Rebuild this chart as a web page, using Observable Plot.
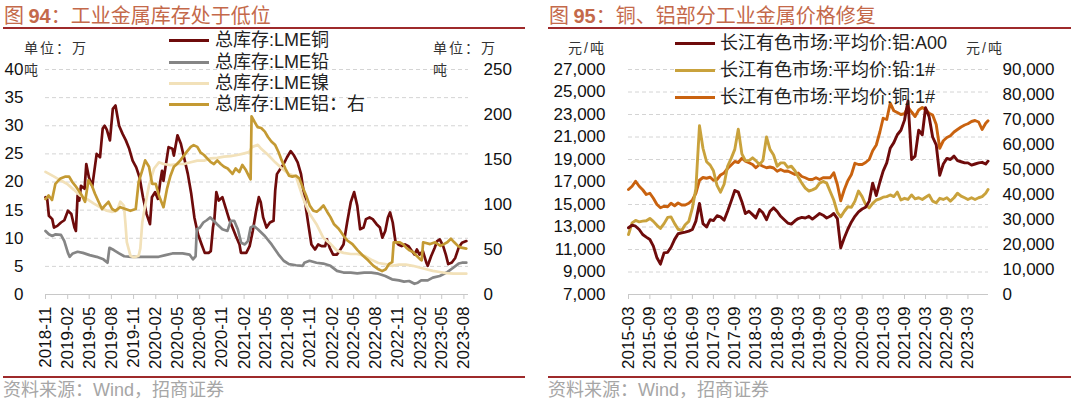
<!DOCTYPE html>
<html><head><meta charset="utf-8">
<script src="https://cdn.jsdelivr.net/npm/d3@7"></script>
<script src="https://cdn.jsdelivr.net/npm/@observablehq/plot@0.6"></script>
<style>
body{margin:0;background:#fff;}
#root{position:relative;width:1080px;height:402px;overflow:hidden;background:#fff;font-family:"Liberation Sans","Noto Sans CJK SC",sans-serif;}
.abs{position:absolute;white-space:nowrap;}
.title{font-size:20px;color:#C4694A;top:0px;line-height:normal;font-family:"Noto Sans CJK SC",sans-serif;}
.title b{font-family:"Liberation Sans",sans-serif;font-weight:bold;}
.rule{position:absolute;height:2px;background:#9E2A2B;}
.src{font-size:18px;color:#A6A6A6;top:380px;line-height:20px;}
.unit{font-size:14px;color:#333;letter-spacing:2px;line-height:16px;}
.leg{font-size:18px;color:#222;line-height:20px;}
.sw{position:absolute;height:3px;width:40px;}
#root svg{position:absolute;top:0;}
</style></head><body><div id="root"></div>
<script>
// ---------- Figure 94: LME inventories (left axis 万吨; aluminium on right axis) ----------
const leftXTicks = ["2018-11","2019-02","2019-05","2019-08","2019-11","2020-02","2020-05","2020-08","2020-11","2021-02","2021-05","2021-08","2021-11","2022-02","2022-05","2022-08","2022-11","2023-02","2023-05","2023-08"];
const leftYTicks = [0,5,10,15,20,25,30,35,40];
const leftRightTicks = [0,50,100,150,200,250];
const leftNames = ["总库存:LME铜","总库存:LME铅","总库存:LME镍","总库存:LME铝：右"];
const leftColors = ["#6E0B0B","#858585","#F2E1B9","#C49A33"];

const cuLME = [["2018-11-01",17.3],["2018-11-08",17],["2018-11-15",14],["2018-11-29",13.4],["2018-12-06",11.9],["2018-12-20",12.2],["2019-01-04",12.8],["2019-01-18",13.2],["2019-02-02",14.9],["2019-02-16",14.3],["2019-03-01",11.9],["2019-03-07",11.3],["2019-03-14",17.6],["2019-03-21",16.7],["2019-03-28",19.3],["2019-04-12",18.8],["2019-04-19",23.2],["2019-04-30",20.8],["2019-05-14",19.3],["2019-06-01",25],["2019-06-15",24.4],["2019-06-26",29.5],["2019-07-04",30],["2019-07-13",29.3],["2019-07-26",27.4],["2019-08-07",33],["2019-08-18",33.6],["2019-09-02",30],["2019-09-16",28.6],["2019-09-30",27.4],["2019-10-14",25.9],["2019-10-28",23.8],["2019-11-12",22.6],["2019-11-26",20.8],["2019-12-10",17.3],["2019-12-25",14.3],["2020-01-08",12.5],["2020-01-16",17.3],["2020-01-29",18.2],["2020-02-10",17],["2020-02-20",20.2],["2020-02-27",22],["2020-03-04",20.2],["2020-03-12",22.6],["2020-03-25",26.2],["2020-04-10",25.9],["2020-04-16",24.7],["2020-05-01",28.3],["2020-05-15",26.8],["2020-05-28",24.4],["2020-06-13",21.4],["2020-06-27",17.9],["2020-07-10",13.7],["2020-07-25",10.7],["2020-08-09",8.9],["2020-08-22",7.4],["2020-09-07",7.4],["2020-09-16",7.7],["2020-09-25",11.9],["2020-10-01",13.4],["2020-10-09",18.2],["2020-10-19",16.7],["2020-11-03",17.3],["2020-11-16",15.5],["2020-12-01",13.4],["2020-12-15",11.9],["2020-12-29",10.4],["2021-01-13",8.9],["2021-01-19",7.4],["2021-02-10",7.4],["2021-02-24",8.6],["2021-03-09",11.3],["2021-03-23",14.9],["2021-04-03",17.3],["2021-04-11",16.4],["2021-04-21",13.7],["2021-05-05",11.9],["2021-05-19",12.8],["2021-06-03",13.1],["2021-06-10",18.5],["2021-06-17",21.4],["2021-07-01",22.3],["2021-07-15",23.2],["2021-07-29",24.4],["2021-08-13",25.5],["2021-08-27",24.7],["2021-09-11",23.5],["2021-09-25",21.4],["2021-10-09",17.3],["2021-10-23",13.1],["2021-11-07",8.9],["2021-11-22",8.0],["2021-12-05",8.9],["2021-12-19",8.6],["2022-01-03",8.6],["2022-01-10",9.8],["2022-01-22",8.3],["2022-02-05",7.1],["2022-02-21",7.1],["2022-03-07",8],["2022-03-20",8.9],["2022-04-04",12.8],["2022-04-19",16.4],["2022-05-03",18.2],["2022-05-16",15.8],["2022-05-28",11.6],["2022-06-11",11.9],["2022-06-21",13.4],["2022-07-06",13.7],["2022-07-19",13.4],["2022-08-04",12.5],["2022-08-18",11.9],["2022-08-28",10.1],["2022-09-09",11.3],["2022-09-20",13.7],["2022-09-29",14.6],["2022-10-10",12.8],["2022-10-21",9.5],["2022-11-02",8.9],["2022-11-16",8.6],["2022-11-30",8.9],["2022-12-14",8.6],["2022-12-24",8],["2023-01-08",7.1],["2023-01-18",8],["2023-01-29",7.1],["2023-02-12",7.7],["2023-02-26",5.7],["2023-03-04",5.1],["2023-03-18",6.8],["2023-04-02",8.3],["2023-04-12",9.5],["2023-04-23",9.8],["2023-05-07",8.6],["2023-05-18",7.1],["2023-05-28",5.4],["2023-06-12",5.7],["2023-06-26",6.5],["2023-07-10",8.3],["2023-07-24",9.2],["2023-08-11",9.5]];

const pbLME = [["2018-11-01",11.3],["2018-11-15",10.7],["2018-11-29",10.4],["2018-12-13",10.7],["2019-01-04",10.6],["2019-01-18",9.5],["2019-02-02",7.4],["2019-02-09",6.7],["2019-02-22",7.3],["2019-03-14",7.6],["2019-04-05",7.4],["2019-05-03",7.0],["2019-06-01",6.7],["2019-06-29",6.25],["2019-07-16",5.65],["2019-07-24",8.3],["2019-08-11",7.9],["2019-09-02",7.3],["2019-09-23",6.8],["2019-10-22",6.7],["2019-12-17",6.7],["2020-02-13",6.7],["2020-03-12",7.0],["2020-04-10",7.3],["2020-05-22",7.3],["2020-06-20",7.1],["2020-07-04",6.25],["2020-07-15",6.8],["2020-07-20",11.6],["2020-08-02",11.9],["2020-08-16",12.8],["2020-08-30",13.2],["2020-09-14",13.7],["2020-09-28",13.1],["2020-10-12",12.5],["2020-11-03",11.6],["2020-11-24",11.3],["2020-12-08",13.1],["2020-12-22",13.1],["2021-01-06",11.6],["2021-01-20",9.2],["2021-02-04",8.9],["2021-02-17",9.5],["2021-02-28",11.9],["2021-03-13",12.2],["2021-03-30",11.6],["2021-04-28",10.4],["2021-05-26",8.9],["2021-06-24",7.1],["2021-07-15",6.0],["2021-08-06",5.4],["2021-09-04",5.2],["2021-10-02",5.1],["2021-10-09",5.65],["2021-10-30",6.0],["2021-11-28",5.65],["2021-12-26",5.5],["2022-01-25",5.1],["2022-02-21",4.2],["2022-03-20",3.9],["2022-04-19",3.9],["2022-05-16",3.75],["2022-06-14",3.9],["2022-07-13",3.9],["2022-08-11",3.7],["2022-09-09",3.3],["2022-10-07",2.7],["2022-11-05",2.5],["2022-11-26",2.3],["2022-12-17",2.4],["2023-01-08",1.9],["2023-01-22",2.1],["2023-02-05",2.5],["2023-03-04",2.5],["2023-03-25",3.0],["2023-04-23",3.3],["2023-05-21",3.9],["2023-06-19",4.8],["2023-07-10",5.5],["2023-07-24",5.65],["2023-08-11",5.65]];

const niLME = [["2018-11-01",21.8],["2018-12-05",21],["2019-01-02",20.3],["2019-01-29",19.7],["2019-02-27",18.6],["2019-03-24",17.6],["2019-04-21",17],["2019-05-19",16.2],["2019-06-16",15.5],["2019-07-13",14.9],["2019-08-04",14.7],["2019-08-24",14.9],["2019-09-07",16.5],["2019-09-22",15.8],["2019-09-28",12.8],["2019-10-04",9.3],["2019-10-19",6.9],["2019-11-02",6.6],["2019-11-22",6.9],["2019-11-29",8.2],["2019-12-07",12.8],["2019-12-19",15.8],["2020-01-04",19.4],["2020-01-25",22.4],["2020-02-14",23.5],["2020-03-04",23.2],["2020-04-02",23],["2020-05-01",23.2],["2020-05-28",23.2],["2020-06-25",23.5],["2020-07-22",23.8],["2020-08-19",23.8],["2020-09-16",24.2],["2020-10-13",24.3],["2020-11-10",24.5],["2020-12-07",24.6],["2021-01-04",24.8],["2021-02-02",25.1],["2021-02-22",25.3],["2021-03-05",26.2],["2021-03-30",26.6],["2021-04-13",25.9],["2021-05-12",24.8],["2021-06-10",23.5],["2021-07-08",22.4],["2021-08-06",21.4],["2021-09-04",21],["2021-09-19",19],["2021-10-02",17.3],["2021-10-16",15.8],["2021-10-30",14.4],["2021-11-28",12.5],["2021-12-26",10.1],["2022-01-25",9],["2022-02-21",7.8],["2022-03-20",7.4],["2022-04-19",7.2],["2022-05-16",7.2],["2022-06-14",6.9],["2022-07-13",6.2],["2022-08-11",5.6],["2022-09-09",5.4],["2022-10-07",5.1],["2022-11-05",5.3],["2022-12-03",5.3],["2023-01-01",5.1],["2023-01-29",4.8],["2023-02-26",4.5],["2023-03-25",4.2],["2023-04-23",4],["2023-05-21",3.8],["2023-06-19",3.7],["2023-08-11",3.7]];

// aluminium stock, right axis (万吨)
const alLME = [["2018-11-01",106],["2018-11-14",110],["2018-11-28",105],["2018-12-12",123],["2019-01-02",129],["2019-01-23",131],["2019-02-07",131],["2019-02-20",125],["2019-03-04",121],["2019-03-17",116],["2019-04-01",110],["2019-04-14",103],["2019-04-28",127],["2019-05-12",121],["2019-05-25",112],["2019-06-09",103],["2019-06-23",95],["2019-07-06",99],["2019-07-20",103],["2019-08-04",95],["2019-08-17",93],["2019-09-07",97],["2019-09-28",95],["2019-10-19",93],["2019-11-10",95],["2019-11-22",125],["2019-12-07",138],["2019-12-19",149],["2020-01-04",142],["2020-01-17",123],["2020-02-01",123],["2020-02-14",110],["2020-03-04",97],["2020-03-19",118],["2020-04-02",132],["2020-04-16",142],["2020-04-29",145],["2020-05-13",149],["2020-06-04",157],["2020-06-25",164],["2020-07-07",166],["2020-07-22",164],["2020-08-04",158],["2020-08-19",155],["2020-09-02",151],["2020-09-16",147],["2020-09-29",145],["2020-10-13",149],["2020-10-27",145],["2020-11-10",142],["2020-11-25",140],["2020-12-15",134],["2020-12-28",140],["2021-01-12",136],["2021-01-25",144],["2021-02-09",138],["2021-02-22",131],["2021-02-28",128],["2021-03-04",198],["2021-03-16",192],["2021-03-29",186],["2021-04-13",185],["2021-04-28",181],["2021-05-11",175],["2021-05-25",170],["2021-06-10",166],["2021-06-24",158],["2021-07-07",149],["2021-07-22",140],["2021-08-06",132],["2021-08-20",131],["2021-09-04",132],["2021-09-18",129],["2021-10-02",119],["2021-10-16",110],["2021-10-31",99],["2021-11-15",93],["2021-11-29",92],["2021-12-13",95],["2021-12-27",99],["2022-01-11",92],["2022-01-25",86],["2022-02-09",78],["2022-02-28",73],["2022-03-21",65],["2022-04-05",60],["2022-04-26",56],["2022-05-18",49],["2022-06-09",43],["2022-06-30",38],["2022-07-21",32],["2022-08-12",28],["2022-08-27",26],["2022-09-11",28],["2022-09-25",34],["2022-10-08",36],["2022-10-14",58],["2022-11-07",58],["2022-11-21",56],["2022-12-05",52],["2022-12-19",49],["2023-01-03",47],["2023-01-17",43],["2023-02-01",39],["2023-02-07",38],["2023-02-13",58],["2023-03-14",56],["2023-04-04",58],["2023-04-26",54],["2023-05-10",56],["2023-05-24",58],["2023-06-08",62],["2023-06-22",58],["2023-07-07",54],["2023-07-21",52],["2023-08-11",51]];

// ---------- Figure 95: Changjiang prices (元/吨) ----------
const rightDates = ["2015-03","2015-04","2015-05","2015-06","2015-07","2015-08","2015-09","2015-10","2015-11","2015-12",
"2016-01","2016-02","2016-03","2016-04","2016-05","2016-06","2016-07","2016-08","2016-09","2016-10","2016-11","2016-12",
"2017-01","2017-02","2017-03","2017-04","2017-05","2017-06","2017-07","2017-08","2017-09","2017-10","2017-11","2017-12",
"2018-01","2018-02","2018-03","2018-04","2018-05","2018-06","2018-07","2018-08","2018-09","2018-10","2018-11","2018-12",
"2019-01","2019-02","2019-03","2019-04","2019-05","2019-06","2019-07","2019-08","2019-09","2019-10","2019-11","2019-12",
"2020-01","2020-02","2020-03","2020-04","2020-05","2020-06","2020-07","2020-08","2020-09","2020-10","2020-11","2020-12",
"2021-01","2021-02","2021-03","2021-04","2021-05","2021-06","2021-07","2021-08","2021-09","2021-10","2021-11","2021-12",
"2022-01","2022-02","2022-03","2022-04","2022-05","2022-06","2022-07","2022-08","2022-09","2022-10","2022-11","2022-12",
"2023-01","2023-02","2023-03","2023-04","2023-05","2023-06","2023-07","2023-08","2023-08-21"];
const rightXTicks = ["2015-03","2015-09","2016-03","2016-09","2017-03","2017-09","2018-03","2018-09","2019-03","2019-09","2020-03","2020-09","2021-03","2021-09","2022-03","2022-09","2023-03"];
const rightYTicks = [7000,9000,11000,13000,15000,17000,19000,21000,23000,25000,27000];
const rightRightTicks = [0,10000,20000,30000,40000,50000,60000,70000,80000,90000];
const rightNames = ["长江有色市场:平均价:铝:A00","长江有色市场:平均价:铅:1#","长江有色市场:平均价:铜:1#"];
const rightColors = ["#6E0B0B","#C9A23C","#C9620F"];

const alA00 = [12930,13160,13070,12780,12330,12100,11890,11300,10260,9700,10700,10750,11200,11900,12400,12480,12550,12630,12780,13520,15100,13300,13000,13650,13570,14000,13900,13600,14400,15300,16250,16100,15250,14200,14400,14100,13810,14560,14260,13650,14400,14700,14380,13950,13650,13350,13260,13550,13750,13850,13800,13950,13700,13950,14200,14050,13800,13950,14200,13750,11150,12040,12800,13450,13950,14350,14600,14750,15300,16900,15800,17000,17960,18700,20000,20500,21200,21600,22500,24200,19000,19300,21600,21200,23600,22800,21000,20300,17600,18600,19100,19000,19300,18900,18800,18700,18700,18500,18600,18700,18750,18600,18850];
const pb1 = [12330,13370,13580,13460,13520,13550,13760,13500,13150,12870,13300,13850,13900,13300,12800,12700,13200,13500,14700,16400,22000,20000,18800,18500,18000,16700,16100,16800,18400,19100,19900,21700,19500,18900,18900,19150,18900,18560,18900,21000,19900,19400,18400,18700,18700,18300,18400,18000,17450,16900,16450,16200,16300,16450,16900,17050,16900,16150,15400,14300,13900,14400,14800,14750,15300,16200,15700,15000,14700,15100,15400,15500,15650,15700,15850,15700,16100,15400,15550,15450,15850,15500,15600,15450,15650,15850,15300,15150,15550,15450,15600,15300,15600,16000,15750,15600,15450,15600,15450,15600,15700,16000,16330];
const cu1 = [42000,43300,45300,43300,41900,40000,40500,38500,36000,34700,35300,35100,36500,35500,36600,35800,35800,36500,37800,40500,45700,46800,46500,46900,45700,46000,47800,48600,50400,51800,53200,52800,54500,53300,52700,52000,50700,52000,51300,50700,51000,50600,49300,50000,49300,49400,48700,48000,48600,47200,46700,46000,46000,46700,46000,46700,46700,46700,48700,44000,37500,42000,45500,48000,52500,52000,52000,52800,54000,57500,59800,65000,70500,70000,76500,73500,72800,72000,72300,75000,73000,71200,73800,74800,74000,72500,71800,68000,58500,61500,62800,63500,65000,66000,67000,67800,68300,69200,69600,69000,66000,68500,69500];

// ---------- helpers ----------
const parseFull = d3.utcParse("%Y-%m-%d");
const P = s => parseFull(s.length === 7 ? s + "-01" : s);
const kL = 40 / 250;                    // right-axis (铝) -> left-axis units
const toLeftR = r => 7000 + r * 20000 / 90000;  // right-axis (铜) -> left-axis units
const rowsPairs = (arr, f = v => v) => arr.map(([d, v]) => ({date: P(d), value: f(v)}));
const rowsGrid = (vals, f = v => v) => vals.map((v, i) => ({date: P(rightDates[i]), value: f(v)}));

const baseStyle = {fontSize: "17px", fontFamily: "Liberation Sans, Arial, sans-serif", color: "#111", background: "transparent", overflow: "visible"};

const plotL = Plot.plot({
  width: 540, height: 402,
  marginTop: 69, marginBottom: 108, marginLeft: 45, marginRight: 72,
  style: baseStyle,
  x: {type: "utc", domain: [P("2018-11-01"), P("2023-08-20")]},
  y: {domain: [0, 40]},
  marks: [
    Plot.gridY(leftYTicks.filter(d => d > 0), {stroke: "#d4d4d4", strokeOpacity: 1, strokeDasharray: "4,3"}),
    Plot.ruleY([0], {stroke: "#c8c8c8", strokeWidth: 1}),
    Plot.axisX(leftXTicks.map(P), {tickFormat: d3.utcFormat("%Y-%m"), tickRotate: -90, tickSize: 5, tickPadding: 7, stroke: "#c8c8c8", label: null}),
    Plot.axisY(leftYTicks, {anchor: "left", tickSize: 0, tickPadding: 22, label: null}),
    Plot.axisY(leftRightTicks.map(v => v * kL), {anchor: "right", tickSize: 0, tickPadding: 15, label: null, tickFormat: d => String(Math.round(d / kL))}),
    Plot.line(rowsPairs(cuLME), {x: "date", y: "value", stroke: leftColors[0], strokeWidth: 2.7}),
    Plot.line(rowsPairs(pbLME), {x: "date", y: "value", stroke: leftColors[1], strokeWidth: 2.7}),
    Plot.line(rowsPairs(niLME), {x: "date", y: "value", stroke: leftColors[2], strokeWidth: 2.7}),
    Plot.line(rowsPairs(alLME, v => v * kL), {x: "date", y: "value", stroke: leftColors[3], strokeWidth: 2.7})
  ]
});

const fmt = d3.format(",");
const plotR = Plot.plot({
  width: 540, height: 402,
  marginTop: 69, marginBottom: 108, marginLeft: 88, marginRight: 92,
  style: baseStyle,
  x: {type: "utc", domain: [P("2015-03-01"), P("2023-08-25")]},
  y: {domain: [7000, 27000]},
  marks: [
    Plot.gridY(rightYTicks.filter(d => d > 7000), {stroke: "#d4d4d4", strokeOpacity: 1, strokeDasharray: "4,3"}),
    Plot.ruleY([7000], {stroke: "#c8c8c8", strokeWidth: 1}),
    Plot.axisX(rightXTicks.map(P), {tickFormat: d3.utcFormat("%Y-%m"), tickRotate: -90, tickSize: 5, tickPadding: 7, stroke: "#c8c8c8", label: null}),
    Plot.axisY(rightYTicks, {anchor: "left", tickSize: 0, tickPadding: 23, label: null, tickFormat: fmt}),
    Plot.axisY(rightRightTicks.map(toLeftR), {anchor: "right", tickSize: 0, tickPadding: 14, label: null, tickFormat: d => fmt(Math.round((d - 7000) * 90000 / 20000))}),
    Plot.line(rowsGrid(cu1, toLeftR), {x: "date", y: "value", stroke: rightColors[2], strokeWidth: 2.9}),
    Plot.line(rowsGrid(pb1), {x: "date", y: "value", stroke: rightColors[1], strokeWidth: 2.9}),
    Plot.line(rowsGrid(alA00), {x: "date", y: "value", stroke: rightColors[0], strokeWidth: 2.9})
  ]
});

const root = document.getElementById("root");
plotL.style.left = "0px";
plotR.style.left = "540px";
root.appendChild(plotL);
root.appendChild(plotR);

function add(html, cls, css) {
  const el = document.createElement("div");
  el.className = cls;
  el.innerHTML = html;
  Object.assign(el.style, css);
  root.appendChild(el);
  return el;
}
// titles & rules
add("图 <b>94</b>：工业金属库存处于低位", "abs title", {left: "4px"});
add("图 <b>95</b>：铜、铝部分工业金属价格修复", "abs title", {left: "549px"});
add("", "rule", {left: "3px", width: "522px", top: "27px"});
add("", "rule", {left: "548px", width: "523px", top: "27px"});
add("", "rule", {left: "3px", width: "522px", top: "376px"});
add("", "rule", {left: "548px", width: "523px", top: "376px"});
add("资料来源：Wind，招商证券", "abs src", {left: "3px"});
add("资料来源：Wind，招商证券", "abs src", {left: "548px"});
// unit labels
add("单位：万", "abs unit", {left: "24px", top: "40px"});
add("吨", "abs unit", {left: "24px", top: "62px"});
add("单位：万", "abs unit", {left: "433px", top: "40px"});
add("吨", "abs unit", {left: "433px", top: "62px"});
add("元/吨", "abs unit", {left: "568px", top: "40px"});
add("元/吨", "abs unit", {left: "966px", top: "40px"});
// legends
const leftLegY = [40, 62, 83, 104];
leftNames.forEach((n, i) => {
  add("", "sw", {left: "169px", top: (leftLegY[i] - 1.5) + "px", background: leftColors[i]});
  add(n, "abs leg", {left: "215px", top: (leftLegY[i] - 10) + "px"});
});
const rightLegY = [43, 70, 97];
rightNames.forEach((n, i) => {
  add("", "sw", {left: "675px", top: (rightLegY[i] - 1.5) + "px", background: rightColors[i]});
  add(n, "abs leg", {left: "720px", top: (rightLegY[i] - 10) + "px"});
});
</script></body></html>
